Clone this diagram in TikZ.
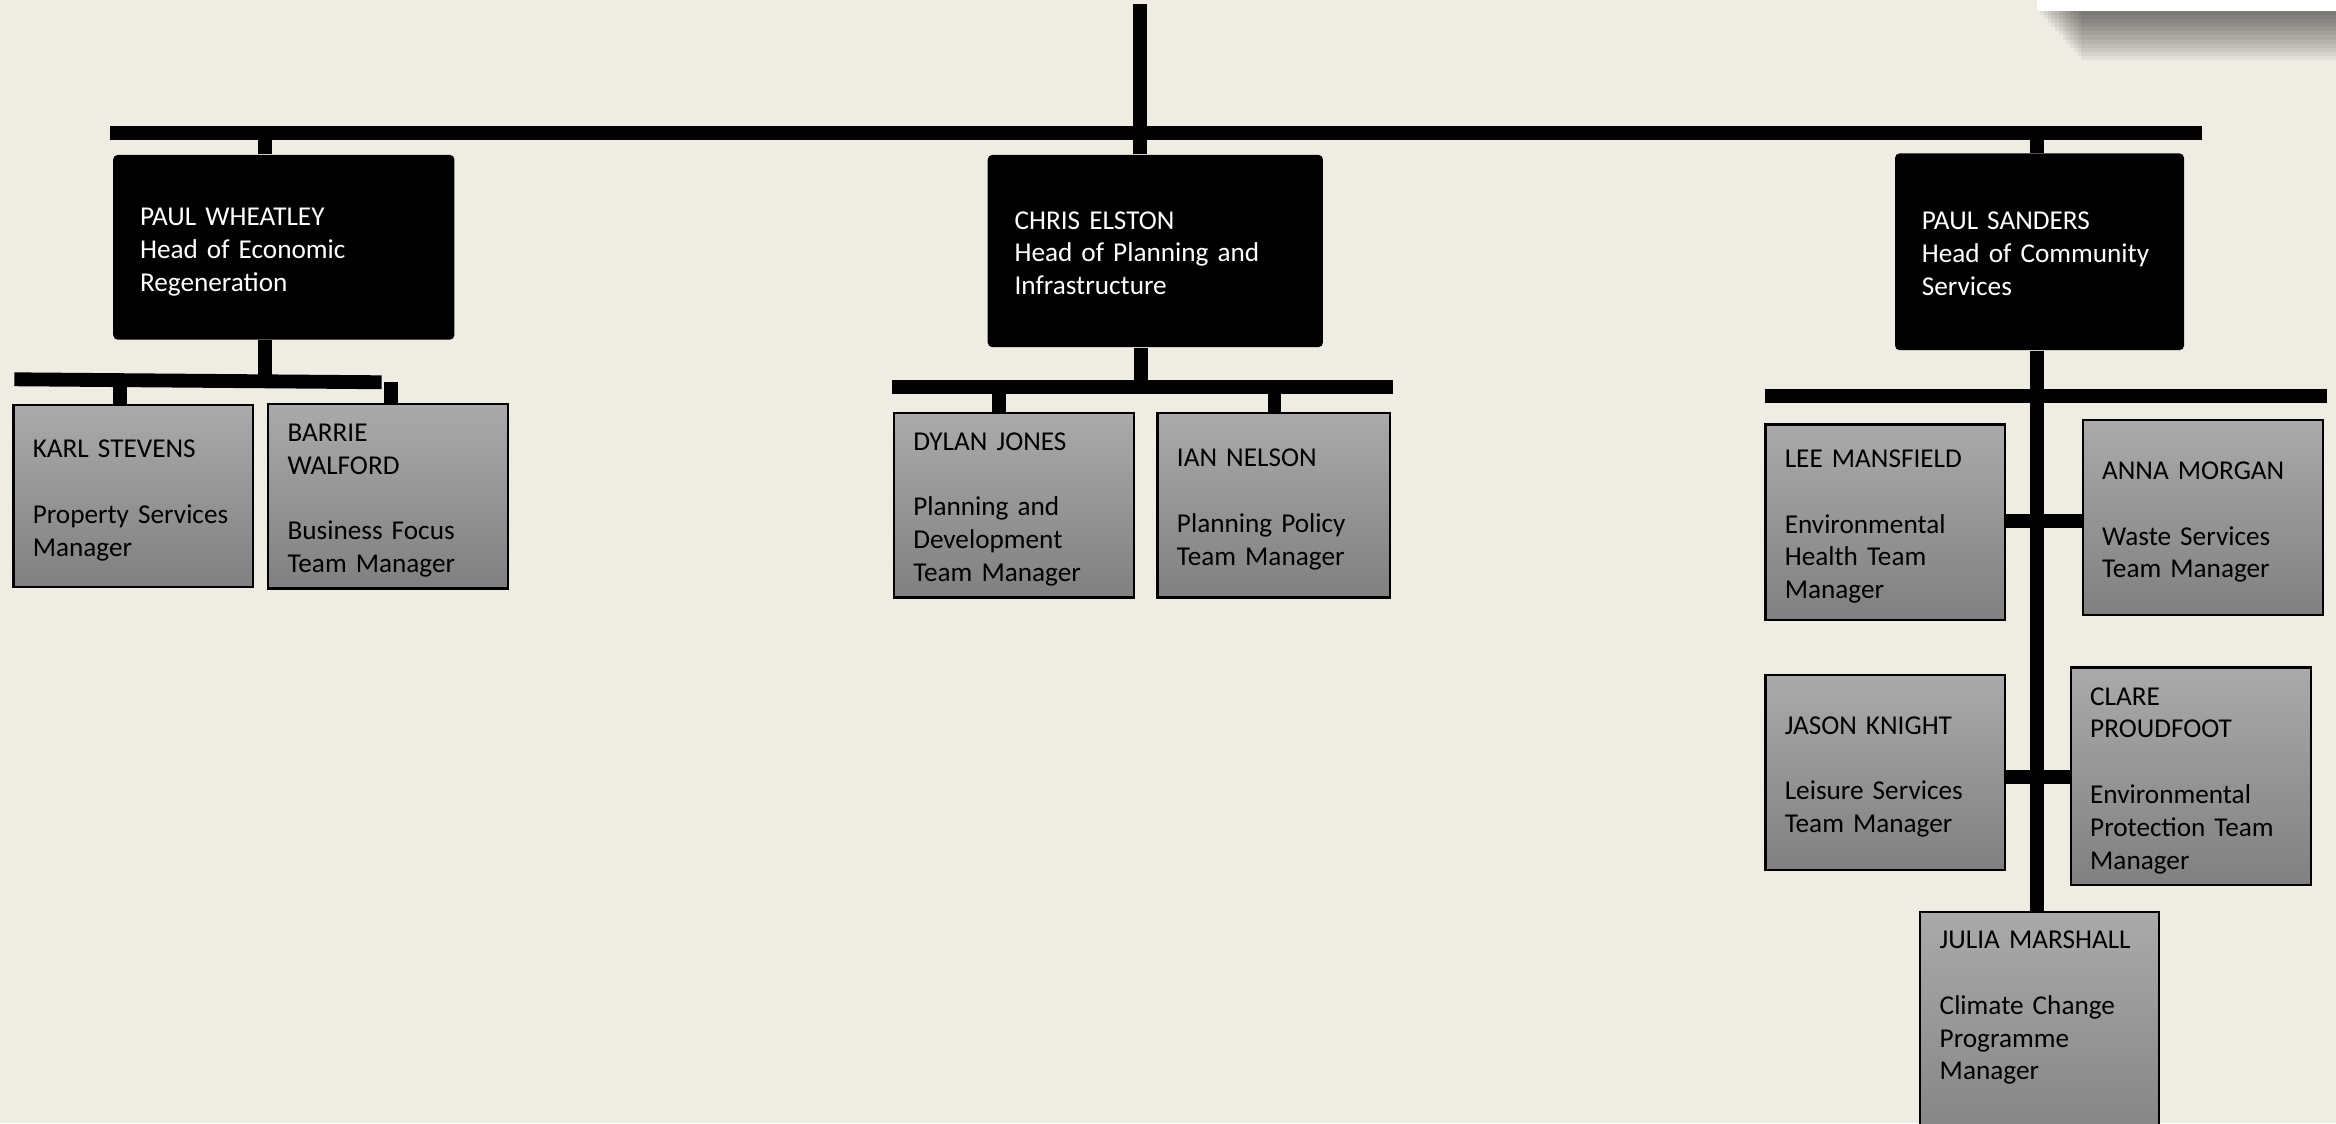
\documentclass[tikz,border=0pt]{standalone}
\usepackage{fontspec}
\setmainfont{Carlito}
\newlength\pxu
\setlength\pxu{0.015cm}
\definecolor{paper}{HTML}{EFECE4}
\definecolor{boxtop}{HTML}{AAAAAA}
\definecolor{boxbot}{HTML}{808080}

\begin{document}
\begin{tikzpicture}
  [x=0.015cm,y=-0.015cm,
   every node/.style={font=\fontsize{7.8}{9.4}\selectfont,align=left,inner ysep=0pt,
     execute at begin node={\rule{0pt}{9.1pt}},execute at end node=\strut},
   head/.style 2 args={fill=black,text=white,rounded corners=3\pxu,
     inner xsep=18\pxu,text width=#1\pxu,minimum height=#2\pxu},
   staff/.style 2 args={draw=black,line width=1.5\pxu,top color=boxtop,
     bottom color=boxbot,inner xsep=13\pxu,text width=#1\pxu,minimum height=#2\pxu},
   bar/.style={line width=9.3\pxu}]
  \useasboundingbox (0,0) rectangle (1568,754);
  \clip (0,0) rectangle (1568,754);
  \fill[paper] (0,0) rectangle (1568,754);

  % corner of the slide above
  \foreach \i in {1,...,12}
    \fill[black,opacity=0.05] (1367+2.5*\i,7) rectangle (1568,7+2.8*\i);
  \fill[white] (1367,0) rectangle (1568,7.4);

  % heads of service
  \node[head={193}{124}] (wheatley) at (190.5,166) {PAUL WHEATLEY\\Head of Economic\\Regeneration};
  \node[head={189}{129}] (elston)   at (775.5,168.5) {CHRIS ELSTON\\Head of Planning and\\Infrastructure};
  \node[head={158}{132}] (sanders)  at (1369,169) {PAUL SANDERS\\Head of Community\\Services};

  % team managers
  \node[staff={135}{122}] (stevens)   at (89.5,333)    {KARL STEVENS\\[9.4pt]Property Services\\Manager};
  \node[staff={135}{124}] (walford)   at (260.5,333)   {BARRIE\\WALFORD\\[9.4pt]Business Focus\\Team Manager};
  \node[staff={135}{124}] (jones)     at (680.5,339)   {DYLAN JONES\\[9.4pt]Planning and\\Development\\Team Manager};
  \node[staff={130}{124}] (nelson)    at (855,339)     {IAN NELSON\\[9.4pt]Planning Policy\\Team Manager};
  \node[staff={135}{131}] (mansfield) at (1265.5,350.5) {LEE MANSFIELD\\[9.4pt]Environmental\\Health Team\\Manager};
  \node[staff={135}{131}] (morgan)    at (1478.5,347.5) {ANNA MORGAN\\[9.4pt]Waste Services\\Team Manager};
  \node[staff={135}{131}] (knight)    at (1265.5,518.5) {JASON KNIGHT\\[9.4pt]Leisure Services\\Team Manager};
  \node[staff={135}{146}] (proudfoot) at (1470.5,521)  {CLARE\\PROUDFOOT\\[9.4pt]Environmental\\Protection Team\\Manager};
  \node[staff={134}{168}] (marshall)  at (1369,696)    {JULIA MARSHALL\\[9.4pt]Climate Change\\Programme\\Manager\\[9.8pt]\mbox{}};

  % bars
  \coordinate (ceo) at (765,3);
  \coordinate (topL) at (74,89);
  \coordinate (topR) at (1478,89);
  \coordinate (t1) at (178,89);
  \coordinate (t3) at (1367.5,89);
  \coordinate (wL) at (9.6,254.6);
  \coordinate (wR) at (256.2,256.6);
  \coordinate (w0) at (178,255.6);
  \coordinate (w1) at (80.5,254.9);
  \coordinate (w2) at (262.7,256.6);
  \coordinate (eL) at (599,259.5);
  \coordinate (eR) at (935,259.5);
  \coordinate (e0) at (766,259.5);
  \coordinate (e1) at (670.5,259.5);
  \coordinate (e2) at (855.5,259.5);
  \coordinate (sL) at (1185,266);
  \coordinate (sR) at (1562,266);
  \coordinate (s1) at (1367.5,349.7);
  \coordinate (s2) at (1367.5,521.5);

  \foreach \from/\to in {topL/topR,wL/wR,eL/eR,sL/sR}
    \draw[bar] (\from) -- (\to);

  \foreach \from/\to in {ceo/elston,t1/wheatley,t3/sanders,w1/stevens,w2/walford,e1/jones,e2/nelson}
    \draw[bar] (\from) -- (\from |- \to.north);

  \foreach \from/\to in {wheatley/w0,elston/e0}
    \draw[bar] (\to |- \from.south) -- (\to);

  \draw[bar] (t3 |- sanders.south) -- (t3 |- marshall.north);

  \foreach \c/\from/\to in {s1/mansfield/morgan,s2/knight/proudfoot}
    \draw[bar] (\c -| \from.east) -- (\c -| \to.west);

\end{tikzpicture}
\end{document}
